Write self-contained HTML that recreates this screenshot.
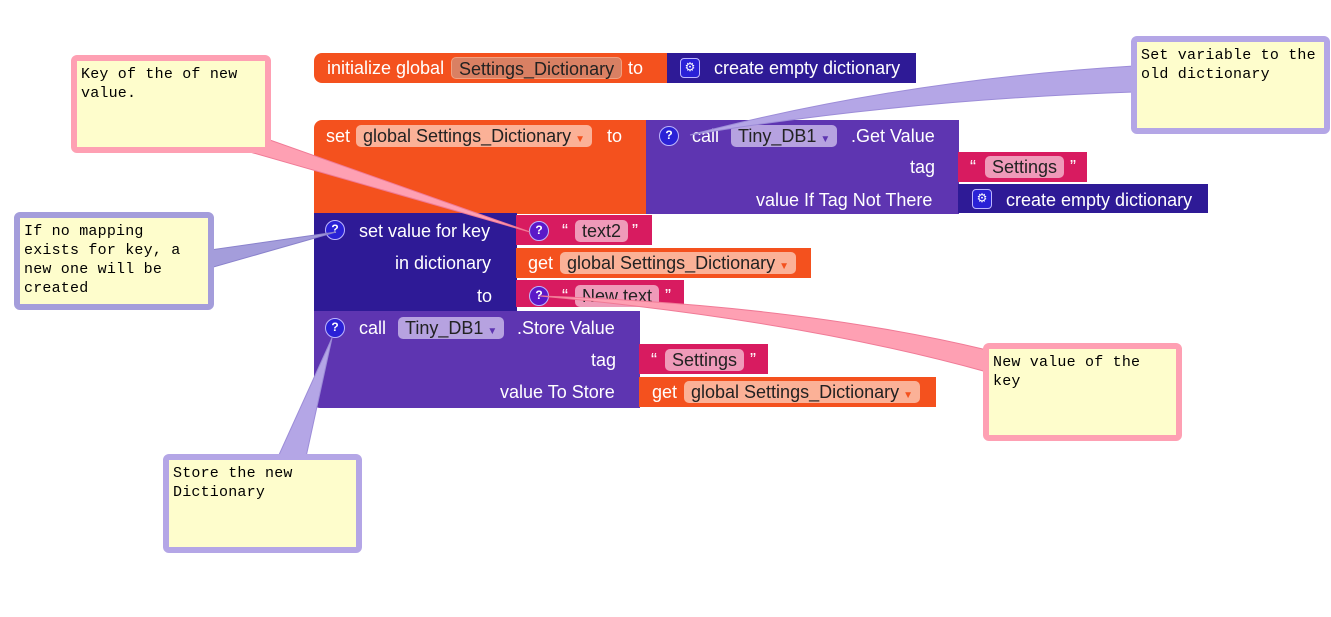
<!DOCTYPE html>
<html><head><meta charset="utf-8"><style>
html,body{margin:0;padding:0;background:#fff;width:1331px;height:617px;overflow:hidden;position:relative}
.b{position:absolute;box-sizing:border-box;font-family:"Liberation Sans",sans-serif;font-size:18px;color:#fff;white-space:nowrap}
.t{position:absolute;font-family:"Liberation Sans",sans-serif;font-size:18px;color:#fff;white-space:nowrap;line-height:20px}
.f{position:absolute;height:22px;line-height:22px;border-radius:5px;font-family:"Liberation Sans",sans-serif;font-size:18px;color:#222;padding:0 7px;box-sizing:border-box;white-space:nowrap}
.q{position:absolute;width:20px;height:20px;border-radius:50%;background:#2a21d6;border:1.5px solid #bdb6ff;box-sizing:border-box;color:#fff;font:bold 12px "Liberation Sans",sans-serif;text-align:center;line-height:17px}
.qp{background:#5b18c8}
.g{position:absolute;width:20px;height:20px;border-radius:4px;background:#2a21d6;border:1.5px solid #bdb6ff;box-sizing:border-box;color:#fff;font:12px "DejaVu Sans",sans-serif;text-align:center;line-height:17px}
.or{background:#f4511e}.pu{background:#5e35b1}.nv{background:#2e1a96}.mg{background:#d81b60}
.c{position:absolute;box-sizing:border-box;border-radius:6px;border:6px solid;background:#fefdcc;font-family:"Liberation Mono","DejaVu Sans Mono",monospace;font-size:15px;letter-spacing:0.2px;line-height:19px;color:#000;padding:4px 4px;white-space:pre}
.pk{border-color:#fea0b3}.lv{border-color:#b4a6e6}.lv2{border-color:#a49ddb}
.dd{font-size:10px;margin-left:4px}
</style></head><body>
<svg width="1331" height="617" style="position:absolute;left:0;top:0;z-index:5;pointer-events:none">
<polygon points="236,148 270,140 530,232" fill="#fea0b3" stroke="#f07a96" stroke-width="1"/>
<path d="M1134,66 Q900,80 690,135 Q900,100 1134,92 Z" fill="#b4a6e6" stroke="#9c8cd8" stroke-width="1"/>
<polygon points="210,250 210,268 336,232" fill="#a49ddb" stroke="#8a82cc" stroke-width="1"/>
<path d="M987,350 Q800,305 540,296 Q800,320 987,372 Z" fill="#fea0b3" stroke="#f07a96" stroke-width="1"/>
<polygon points="278,457 306,457 332,338" fill="#b4a6e6" stroke="#9c8cd8" stroke-width="1"/>
</svg>

<!-- initialize -->
<div class="b or" style="left:314px;top:53px;width:354px;height:30px;border-radius:8px 0 0 8px"></div>
<div class="t" style="left:327px;top:58px">initialize global</div>
<div class="f" style="left:451px;top:57px;background:#d98063;border:1px solid #f0a080">Settings_Dictionary</div>
<div class="t" style="left:628px;top:58px">to</div>
<div class="b nv" style="left:667px;top:53px;width:249px;height:30px"></div>
<div class="g" style="left:680px;top:58px">⚙</div>
<div class="t" style="left:714px;top:58px">create empty dictionary</div>

<!-- set block -->
<div class="b or" style="left:314px;top:120px;width:334px;height:94px;border-radius:8px 0 0 0"></div>
<div class="t" style="left:326px;top:126px">set</div>
<div class="f" style="left:356px;top:125px;background:#fbb197">global Settings_Dictionary<span class="dd" style="color:#f4511e">▼</span></div>
<div class="t" style="left:607px;top:126px">to</div>
<div class="b pu" style="left:646px;top:120px;width:313px;height:94px"></div>
<div class="q" style="left:659px;top:126px">?</div>
<div class="t" style="left:692px;top:126px">call</div>
<div class="f" style="left:731px;top:125px;background:#b6a2e0">Tiny_DB1<span class="dd" style="color:#5e35b1">▼</span></div>
<div class="t" style="left:851px;top:126px">.Get Value</div>
<div class="t" style="left:910px;top:157px">tag</div>
<div class="t" style="left:756px;top:190px">value If Tag Not There</div>
<div class="b mg" style="left:958px;top:152px;width:129px;height:30px"></div>
<div class="t" style="left:970px;top:157px">“</div>
<div class="f" style="left:985px;top:156px;background:#ef9ab9">Settings</div>
<div class="t" style="left:1070px;top:157px">”</div>
<div class="b nv" style="left:958px;top:184px;width:250px;height:29px"></div>
<div class="g" style="left:972px;top:189px">⚙</div>
<div class="t" style="left:1006px;top:190px">create empty dictionary</div>

<!-- set value for key -->
<div class="b nv" style="left:314px;top:213px;width:203px;height:99px"></div>
<div class="q" style="left:325px;top:220px">?</div>
<div class="t" style="left:359px;top:221px">set value for key</div>
<div class="t" style="left:395px;top:253px">in dictionary</div>
<div class="t" style="left:477px;top:286px">to</div>
<div class="b mg" style="left:516px;top:215px;width:136px;height:30px"></div>
<div class="q qp" style="left:529px;top:221px">?</div>
<div class="t" style="left:562px;top:221px">“</div>
<div class="f" style="left:575px;top:220px;background:#ef9ab9">text2</div>
<div class="t" style="left:632px;top:221px">”</div>
<div class="b or" style="left:516px;top:248px;width:295px;height:30px"></div>
<div class="t" style="left:528px;top:253px">get</div>
<div class="f" style="left:560px;top:252px;background:#fbb197">global Settings_Dictionary<span class="dd" style="color:#f4511e">▼</span></div>
<div class="b mg" style="left:516px;top:280px;width:168px;height:27px"></div>
<div class="q qp" style="left:529px;top:286px">?</div>
<div class="t" style="left:562px;top:286px">“</div>
<div class="f" style="left:575px;top:285px;background:#ef9ab9">New text</div>
<div class="t" style="left:665px;top:286px">”</div>

<!-- store value -->
<div class="b pu" style="left:314px;top:311px;width:326px;height:97px;border-radius:0 0 0 6px"></div>
<div class="q" style="left:325px;top:318px">?</div>
<div class="t" style="left:359px;top:318px">call</div>
<div class="f" style="left:398px;top:317px;background:#b6a2e0">Tiny_DB1<span class="dd" style="color:#5e35b1">▼</span></div>
<div class="t" style="left:517px;top:318px">.Store Value</div>
<div class="t" style="left:591px;top:350px">tag</div>
<div class="t" style="left:500px;top:382px">value To Store</div>
<div class="b mg" style="left:639px;top:344px;width:129px;height:30px"></div>
<div class="t" style="left:651px;top:350px">“</div>
<div class="f" style="left:665px;top:349px;background:#ef9ab9">Settings</div>
<div class="t" style="left:750px;top:350px">”</div>
<div class="b or" style="left:639px;top:377px;width:297px;height:30px"></div>
<div class="t" style="left:652px;top:382px">get</div>
<div class="f" style="left:684px;top:381px;background:#fbb197">global Settings_Dictionary<span class="dd" style="color:#f4511e">▼</span></div>

<!-- comments -->
<div class="c pk" style="left:71px;top:55px;width:200px;height:98px;z-index:6">Key of the of new
value.</div>
<div class="c lv" style="left:1131px;top:36px;width:199px;height:98px;z-index:6">Set variable to the
old dictionary</div>
<div class="c lv2" style="left:14px;top:212px;width:200px;height:98px;z-index:6">If no mapping
exists for key, a
new one will be
created</div>
<div class="c pk" style="left:983px;top:343px;width:199px;height:98px;z-index:6">New value of the
key</div>
<div class="c lv" style="left:163px;top:454px;width:199px;height:99px;z-index:6">Store the new
Dictionary</div>
</body></html>
